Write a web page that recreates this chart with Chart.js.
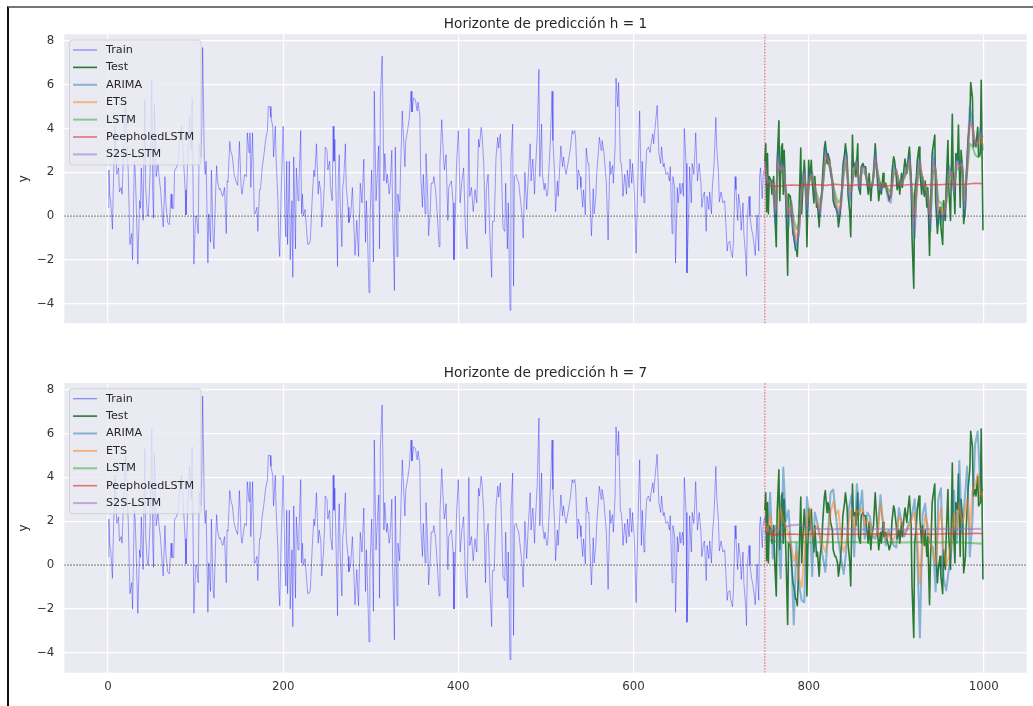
<!DOCTYPE html>
<html>
<head>
<meta charset="utf-8">
<script src="https://cdn.jsdelivr.net/npm/chart.js@4/dist/chart.umd.min.js"></script>
<style>
  html, body { margin: 0; padding: 0; background: #fff; }
  body { width: 1033px; height: 706px; position: relative; overflow: hidden; }
  canvas { position: absolute; left: 0; }
  #c1 { top: 0; }
  #c2 { top: 353px; }
  #marco { position: absolute; left: 7px; top: 6px; right: -10px; bottom: -10px;
           border-left: 2px solid #111; border-top: 2px solid #777; pointer-events: none; }
</style>
</head>
<body>
<canvas id="c1" width="1033" height="353"></canvas>
<canvas id="c2" width="1033" height="353"></canvas>
<div id="marco"></div>
<script>
// serie de entrenamiento [t, y]
const trainPts = [
[0,0.4],[1,2.1],[2,0.9],[3,0.7],[5,-0.6],[6,1.3],[8,4.1],[10,1.9],[12,2.2],[13,1.1],
[15,1.3],[16,1.0],[18,3.2],[20,5.0],[22,2.7],[23,2.1],[25,-1.3],[27,-0.8],[28,-2.0],[30,2.5],
[31,2.1],[32,0.8],[34,-2.2],[36,0.7],[37,0.35],[38,2.2],[40,-0.2],[42,5.3],[43,1.3],[45,0.0],
[46,0.0],[48,1.9],[50,6.2],[51,1.0],[52,-0.1],[53,5.1],[55,1.8],[57,2.4],[58,1.9],[60,1.2],
[61,0.6],[63,-0.5],[65,1.8],[66,0.6],[68,-0.3],[70,-0.4],[72,1.0],[73,0.35],[75,0.35],[76,2.1],
[78,2.2],[80,2.5],[82,3.5],[84,4.1],[86,2.7],[88,1.2],[89,0.05],[91,2.7],[93,4.5],[95,3.0],
[96,5.4],[98,-2.2],[100,0.0],[101,0.0],[103,-0.8],[104,3.3],[106,2.7],[107,3.9],[108,7.7],[110,2.5],
[111,1.9],[112,2.5],[114,-2.15],[115,0.1],[117,-1.2],[118,2.1],[120,-1.1],[121,-1.5],[123,1.3],[124,2.3],
[125,1.6],[127,1.2],[128,1.25],[130,1.0],[131,0.9],[133,1.3],[135,-0.8],[136,1.6],[137,1.55],[139,3.4],
[140,3.0],[142,2.7],[144,1.9],[146,1.6],[148,1.4],[150,3.4],[152,1.3],[153,1.0],[155,1.6],[156,1.9],
[158,1.8],[159,3.8],[161,2.9],[162,3.8],[163,1.3],[165,3.8],[167,0.1],[168,0.1],[170,0.4],[171,-0.7],
[173,1.2],[174,1.2],[176,2.2],[178,2.8],[180,3.5],[182,3.9],[183,5.0],[185,5.0],[186,4.5],[188,4.1],
[189,2.7],[191,4.1],[192,2.5],[194,0.7],[195,-1.1],[196,-1.85],[198,1.6],[200,4.1],[202,0.0],[203,-0.95],
[204,2.5],[205,-1.3],[207,2.5],[208,-2.0],[210,0.7],[211,-2.8],[212,2.7],[214,-1.5],[215,2.2],[217,0.7],
[218,1.5],[220,3.9],[221,0.1],[222,1.0],[223,0.0],[225,0.3],[227,-0.8],[228,-1.3],[230,-1.25],[231,-1.1],
[233,0.7],[235,2.1],[236,1.8],[238,3.3],[240,1.0],[241,1.6],[243,1.1],[244,-0.5],[246,0.6],[247,1.5],
[248,3.15],[250,3.0],[251,2.1],[253,2.5],[254,1.3],[256,0.7],[257,4.1],[258,2.5],[259,3.5],[260,1.6],
[262,-2.3],[263,1.9],[264,2.8],[265,0.7],[267,-1.4],[268,1.3],[269,1.6],[271,3.3],[272,1.3],[274,0.4],
[275,-0.3],[277,0.0],[279,1.3],[280,0.3],[282,-1.8],[284,-0.2],[286,-1.85],[288,1.5],[290,0.6],[292,2.6],
[294,-1.2],[295,0.7],[296,-0.5],[298,-3.5],[299,-0.3],[301,2.1],[303,-2.1],[304,5.7],[306,0.7],[307,0.7],
[309,3.2],[310,-1.5],[311,5.4],[313,7.3],[315,1.6],[316,2.85],[318,1.5],[319,1.9],[321,1.0],[322,1.3],
[324,3.0],[325,0.0],[327,-3.4],[328,3.15],[330,-1.85],[331,1.0],[333,0.2],[334,2.1],[336,4.8],[337,3.9],
[339,2.25],[340,3.45],[342,3.9],[344,4.5],[346,5.7],[347,4.75],[349,5.4],[351,5.3],[353,4.8],[354,5.2],
[356,4.6],[357,1.9],[359,0.4],[360,1.9],[362,0.1],[363,2.85],[365,0.9],[366,-0.9],[368,0.3],[369,1.5],
[371,1.5],[372,1.8],[374,1.2],[376,0.0],[378,-1.4],[379,2.4],[381,4.4],[383,2.7],[384,2.1],[386,2.8],
[388,-0.2],[389,1.3],[391,1.5],[392,1.6],[394,0.6],[395,-2.0],[397,0.9],[398,2.4],[400,3.9],[402,0.6],
[404,1.6],[406,2.2],[408,-0.5],[410,-1.5],[412,4.0],[413,0.9],[415,1.3],[417,0.2],[419,1.2],[421,0.6],
[423,3.5],[424,3.15],[426,4.05],[427,3.75],[429,2.4],[431,-0.8],[432,1.3],[434,1.9],[436,-0.9],[438,-2.8],
[439,-0.25],[441,-0.25],[443,2.7],[445,3.6],[446,3.1],[448,3.75],[449,2.4],[451,-0.55],[453,-0.7],[454,1.5],
[456,-1.5],[457,0.6],[459,-4.3],[460,2.5],[462,4.2],[463,-3.2],[464,1.8],[466,1.9],[467,1.7],[469,1.5],
[471,0.7],[473,-0.1],[474,-1.0],[476,2.0],[478,0.3],[480,1.9],[482,3.3],[483,1.6],[485,2.6],[487,1.0],
[488,2.1],[490,3.6],[492,6.7],[493,1.8],[495,4.2],[496,1.9],[498,1.2],[499,1.5],[501,0.9],[502,1.0],
[505,3.4],[507,5.7],[508,3.45],[510,1.8],[511,0.2],[513,1.6],[514,0.9],[516,2.4],[517,3.2],[519,2.25],
[520,2.7],[522,2.1],[523,1.9],[526,2.6],[528,3.1],[530,3.9],[531,3.75],[533,3.9],[534,3.45],[536,1.2],
[537,2.1],[539,1.8],[540,1.3],[542,0.4],[543,1.2],[545,0.05],[546,3.1],[548,2.4],[549,2.4],[551,0.0],
[552,-0.9],[554,1.25],[555,0.1],[557,0.9],[558,1.9],[560,3.0],[561,3.6],[563,3.0],[564,3.45],[566,3.0],
[568,2.0],[569,1.5],[571,-1.1],[573,2.5],[574,1.9],[576,2.3],[577,1.5],[579,3.15],[580,6.3],[582,5.0],
[583,6.1],[585,2.5],[586,2.4],[587,1.9],[588,0.9],[590,1.9],[592,1.0],[593,2.1],[595,1.3],[596,2.6],
[598,1.5],[599,2.4],[601,1.0],[603,-1.7],[605,1.8],[607,4.8],[609,0.9],[610,2.5],[612,0.6],[613,1.3],
[615,3.0],[617,3.15],[619,2.9],[620,3.3],[622,3.75],[623,3.3],[625,4.2],[627,5.05],[629,2.85],[631,2.4],
[632,3.15],[634,2.25],[635,2.4],[637,1.9],[639,2.0],[641,1.6],[642,2.25],[644,-0.8],[645,1.8],[647,1.3],
[648,-2.15],[650,1.3],[651,0.6],[653,1.5],[654,1.0],[656,1.5],[657,0.9],[658,4.0],[660,2.4],[661,-2.6],
[663,0.1],[664,2.25],[666,0.6],[667,2.4],[669,1.9],[671,3.8],[673,1.6],[675,2.4],[677,1.5],[678,0.4],
[680,1.0],[681,1.1],[683,-0.7],[684,0.9],[686,0.3],[687,1.1],[689,0.1],[690,1.3],[692,2.4],[694,4.5],
[695,3.15],[697,2.0],[698,0.65],[700,1.1],[702,0.6],[704,0.7],[705,0.0],[707,-1.6],[708,-1.25],[710,-1.15],
[711,-1.55],[713,-1.9],[714,-1.25],[716,1.8],[717,1.2],[719,-0.2],[720,1.0],[722,0.3],[723,-0.65],[725,0.6],
[726,-0.8],[728,-1.85],[729,-2.75],[730,0.0],[732,0.9],[733,0.0],[735,-0.65],[736,-0.8],[738,-1.4],[739,-1.8],
[741,0.05],[743,-1.6],[744,1.8],[745,2.2],[747,0.8],[748,1.8],[749,2.1]
];

// serie de test [t, y]
const testPts = [
[750,2.5],[751,3.3],[752,0.2],[753,2.85],[754,0.1],[755,1.8],[757,1.6],[758,1.0],[760,1.8],[761,0.4],
[763,-1.4],[764,2.4],[766,4.35],[767,0.7],[769,3.15],[770,3.3],[771,1.0],[772,3.0],[774,0.6],[776,-2.7],
[777,1.0],[779,0.9],[780,0.4],[782,-0.8],[783,-0.95],[785,-1.55],[786,-1.55],[787,-1.85],[789,0.3],[791,3.1],
[792,0.1],[794,1.8],[795,2.55],[797,1.0],[798,-1.4],[800,2.55],[801,1.6],[803,2.55],[804,1.6],[806,0.6],
[807,1.8],[809,0.4],[810,0.6],[812,-0.5],[813,0.4],[815,1.0],[816,1.95],[818,3.15],[819,3.4],[821,2.4],
[822,2.85],[824,2.55],[825,1.95],[827,1.6],[828,0.7],[830,0.4],[831,0.4],[833,0.1],[834,-0.5],[836,0.1],
[838,1.3],[839,2.25],[841,2.85],[842,3.3],[844,2.55],[845,1.0],[847,0.1],[848,-0.95],[850,3.7],[851,2.25],
[853,2.4],[854,1.8],[856,3.3],[857,1.3],[859,1.0],[860,2.25],[862,2.4],[863,2.25],[865,2.25],[866,1.8],
[868,1.0],[869,1.95],[871,0.7],[872,1.3],[874,1.8],[876,3.3],[877,2.55],[879,1.3],[880,0.7],[882,1.5],
[883,1.0],[885,1.95],[886,1.3],[888,1.5],[889,1.2],[891,0.9],[892,0.7],[894,1.0],[895,1.95],[897,2.7],
[898,2.55],[900,1.8],[901,1.2],[903,1.6],[904,1.0],[906,1.95],[907,1.3],[909,2.25],[910,2.6],[912,1.95],
[913,2.4],[915,3.15],[917,1.8],[918,-0.95],[920,-3.3],[921,1.0],[923,1.8],[924,2.55],[926,3.15],[927,2.1],
[929,1.0],[930,1.8],[932,0.9],[933,1.6],[935,0.4],[936,1.3],[938,-1.8],[939,0.1],[941,2.85],[942,3.15],
[944,3.7],[945,0.7],[947,-0.8],[948,-0.2],[950,0.4],[951,-0.5],[953,-1.3],[954,0.7],[956,-0.2],[957,1.3],
[959,3.45],[960,1.3],[962,-0.2],[964,4.65],[965,1.95],[967,0.1],[968,2.85],[970,2.55],[971,4.15],[973,0.4],
[974,3.0],[976,1.95],[977,-0.35],[979,0.4],[980,1.8],[982,3.45],[984,4.35],[985,6.1],[987,5.4],[988,3.15],
[990,3.45],[991,3.15],[993,4.05],[994,2.7],[996,2.85],[997,6.2],[999,-0.65]
];

// predicciones: rejilla cada 3 pasos (750..999) y rejilla gruesa para las casi planas
const predX = [];
for (let t = 750; t <= 999; t += 3) predX.push(t);
const flatX = [750,760,770,780,790,800,810,820,830,840,850,860,870,880,890,900,910,920,930,940,950,960,970,980,990,999];

// h = 1
const arima1 = [2.6,1.3,1.7,1.4,-0.3,3.0,2.0,2.4,0.8,-0.5, 0.6,-0.9,-1.5,-0.7,1.6,2.2,0.0,2.0,2.0,1.2,
  0.5,0.0,1.5,3.2,2.6,2.2,1.1,0.4,-0.1,0.6, 2.5,2.9,0.6,1.2,2.3,2.6,1.2,2.3,2.2,1.4,
  1.3,1.5,3.0,1.8,1.1,1.5,1.4,1.0,0.9,2.3, 2.1,1.4,1.5,1.9,2.2,2.8,0.6,-1.0,2.2,2.6,
  1.4,1.2,0.9,-0.7,2.9,2.0,-0.4,0.0,-0.2,0.6, 2.3,2.0,1.0,2.7,2.3,2.5,0.0,2.6,5.0,4.2, 3.3,3.4,4.0,3.0];
const ets1 = [2.3,1.6,1.6,1.5,0.3,2.4,2.1,2.2,1.1,0.1, 0.5,-0.5,-1.0,-0.6,1.1,1.9,0.6,1.7,1.9,1.3,
  0.7,0.3,1.3,2.7,2.6,2.2,1.4,0.7,0.3,0.6, 2.0,2.6,1.1,1.3,2.1,2.4,1.5,2.1,2.1,1.6,
  1.4,1.5,2.6,2.0,1.4,1.5,1.4,1.2,1.0,2.0, 2.1,1.6,1.5,1.8,2.1,2.5,1.1,-0.2,1.6,2.4,
  1.7,1.3,1.0,-0.1,2.3,2.2,0.4,0.3,0.1,0.6, 1.9,2.0,1.3,2.4,2.3,2.4,0.7,2.1,4.2,4.1, 3.4,3.3,3.7,3.2];
const lstm1 = [2.0,1.6,1.6,1.5,0.6,2.2,2.0,2.1,1.2,0.4, 0.7,-0.2,-0.6,-0.3,1.1,1.8,0.8,1.7,1.8,1.3,
  0.9,0.6,1.3,2.5,2.4,2.1,1.4,0.9,0.6,0.8, 1.9,2.4,1.2,1.4,2.0,2.3,1.5,2.0,2.0,1.6,
  1.4,1.5,2.4,1.9,1.4,1.5,1.4,1.2,1.1,1.9, 2.0,1.6,1.5,1.7,2.0,2.3,1.2,0.2,1.5,2.2,
  1.7,1.4,1.1,0.3,2.1,2.0,0.7,0.6,0.4,0.8, 1.8,1.9,1.4,2.2,2.1,2.2,1.0,2.0,3.3,3.2, 2.8,2.7,2.8,2.6];
const peep1 = [1.45,1.35,1.38,1.42,1.40,1.44,1.43,1.40,1.45,1.42,1.40,1.44,1.41,1.43,1.38,1.40,1.42,1.45,1.42,1.44,1.43,1.46,1.44,1.45,1.50,1.48];
const s2s1 = [2.4,1.5,1.6,1.4,0.1,2.7,2.1,2.3,1.0,-0.2, 0.5,-0.7,-1.3,-0.8,1.3,2.0,0.3,1.8,1.9,1.2,
  0.5,0.1,1.3,2.9,2.6,2.2,1.2,0.5,0.1,0.5, 2.2,2.7,0.9,1.2,2.2,2.5,1.3,2.2,2.1,1.5,
  1.3,1.4,2.8,1.9,1.2,1.4,1.3,0.7,0.6,2.1, 2.1,1.5,1.4,1.8,2.1,2.6,0.8,-0.6,1.9,2.5,
  1.5,1.2,0.9,-0.4,2.6,2.1,0.0,0.1,-0.1,0.6, 2.1,2.0,1.1,2.5,2.2,2.4,0.3,2.4,4.4,4.0, 3.2,3.3,3.8,3.6];

// h = 7
const arima7 = [2.2,1.2,3.3,0.3,1.8,1.5,-0.6,4.45,2.0,2.5, 0.7,-2.7,1.0,-0.9,-1.6,-1.7,3.1,2.2,-0.5,2.4,
  1.9,1.2,0.4,-0.3,1.4,3.3,3.45,2.3,1.1,0.3, -0.4,0.7,2.6,3.2,0.4,3.7,2.3,3.4,1.2,2.4,
  2.2,1.3,1.2,1.6,3.2,1.7,0.9,1.6,1.3,0.9, 0.8,2.6,2.0,1.3,1.6,2.0,2.3,3.0,0.5,-3.3,
  2.3,2.8,1.3,1.0,0.8,-1.2,3.0,3.5,-0.6,-1.15, -0.2,0.7,3.4,1.0,4.75,1.5,2.9,4.5,0.4,2.0, 5.5,6.1,3.6,3.4];
const ets7 = [2.0,1.5,2.3,1.2,1.5,1.6,2.6,2.0,1.8,1.4, 0.9,0.2,0.6,-0.6,-1.0,0.4,2.0,2.6,1.2,1.6,
  1.8,1.4,0.9,0.6,1.2,2.4,2.9,2.3,2.5,1.2, 0.6,1.0,2.0,2.6,1.4,2.5,2.4,2.6,1.8,2.1,
  1.9,1.4,1.3,1.5,2.8,2.0,1.2,1.4,1.1,1.2, 1.4,2.2,2.0,1.5,1.6,1.8,2.1,2.4,1.2,-0.85,
  0.9,2.3,1.8,1.0,0.6,0.05,1.8,2.6,0.8,0.0, 0.4,1.0,2.4,1.6,2.8,1.9,2.3,3.0,1.5,3.4, 3.6,4.15,3.3,3.1];
const lstm7 = [1.2,1.08,1.05,1.04,1.05,1.03,1.04,1.05,1.04,1.03,1.05,1.04,1.03,1.04,1.05,1.04,1.03,1.04,1.05,1.04,1.03,1.05,1.04,1.02,1.0,0.98];
const peep7 = [1.5,1.38,1.40,1.42,1.40,1.41,1.43,1.40,1.42,1.41,1.40,1.42,1.41,1.43,1.40,1.41,1.42,1.40,1.43,1.41,1.42,1.44,1.42,1.43,1.45,1.44];
const s2s7 = [1.55,1.62,1.7,1.82,1.85,1.7,1.66,1.65,1.64,1.66,1.65,1.63,1.65,1.66,1.64,1.65,1.63,1.66,1.65,1.64,1.66,1.65,1.64,1.66,1.65,1.66];

const xTicks = [0, 200, 400, 600, 800, 1000];
const yTicks = [-4, -2, 0, 2, 4, 6, 8];
const xMin = -49.95, xMax = 1048.95;
const yMin = -4.9, yMax = 8.3;
const corte = 750;
const titulos = ['Horizonte de predicción h = 1', 'Horizonte de predicción h = 7'];

const FUENTE = 'DejaVu Sans';
const estilos = {
  'Train':         { color: 'rgba(0,0,255,0.45)',     width: 0.8 },
  'Test':          { color: 'rgba(20,110,30,0.9)',    width: 1.6 },
  'ARIMA':         { color: 'rgba(31,119,180,0.5)',   width: 2 },
  'ETS':           { color: 'rgba(255,127,14,0.5)',   width: 2 },
  'LSTM':          { color: 'rgba(44,160,44,0.5)',    width: 2 },
  'PeepholedLSTM': { color: 'rgba(214,39,40,0.6)',    width: 1.6 },
  'S2S-LSTM':      { color: 'rgba(148,103,189,0.5)',  width: 2 }
};

const dePares = p => p.map(([x, y]) => ({ x, y }));
const deRejilla = (xs, ys) => xs.map((x, i) => ({ x, y: ys[i] }));

function serie(label, data) {
  const e = estilos[label];
  return { label, data, borderColor: e.color, borderWidth: e.width, enLeyenda: true };
}

const fondo = {
  id: 'fondo',
  beforeDraw(chart) {
    const { ctx, chartArea: a } = chart;
    ctx.save();
    ctx.fillStyle = '#EAEAF2';
    ctx.fillRect(a.left, a.top, a.right - a.left, a.bottom - a.top);
    ctx.restore();
  }
};

const titulo = {
  id: 'titulo',
  afterDraw(chart, args, opts) {
    const { ctx, chartArea: a } = chart;
    ctx.save();
    ctx.font = '13.6px "' + FUENTE + '"';
    ctx.fillStyle = '#262626';
    ctx.textAlign = 'center';
    ctx.textBaseline = 'alphabetic';
    ctx.fillText(opts.text, (a.left + a.right) / 2, a.top - 6);
    ctx.restore();
  }
};

const leyenda = {
  id: 'leyenda',
  afterDraw(chart) {
    const { ctx, chartArea: a } = chart;
    const items = chart.data.datasets.filter(d => d.enLeyenda);
    const x0 = a.left + 5.2, y0 = a.top + 5.7;
    ctx.save();
    ctx.beginPath();
    ctx.roundRect(x0, y0, 131.5, 125, 3);
    ctx.fillStyle = 'rgba(234,234,242,0.8)';
    ctx.fill();
    ctx.strokeStyle = 'rgba(204,204,204,0.8)';
    ctx.lineWidth = 1;
    ctx.stroke();
    ctx.font = '11.2px "' + FUENTE + '"';
    ctx.textBaseline = 'middle';
    items.forEach((d, i) => {
      const y = y0 + 10 + i * 17.4;
      ctx.beginPath();
      ctx.moveTo(x0 + 3.5, y);
      ctx.lineTo(x0 + 27.5, y);
      ctx.strokeStyle = d.borderColor;
      ctx.lineWidth = Math.max(d.borderWidth, 1.2);
      ctx.stroke();
      ctx.fillStyle = '#262626';
      ctx.fillText(d.label, x0 + 36.5, y);
    });
    ctx.restore();
  }
};

function crear(id, texto, series, conEtiquetas, arriba, altoEjeX) {
  const lineas = series.concat([
    { label: 'cero', data: [{ x: xMin, y: 0 }, { x: xMax, y: 0 }],
      borderColor: 'rgba(0,0,0,0.85)', borderWidth: 0.9, borderDash: [1.5, 1.5] },
    { label: 'corte', data: [{ x: corte, y: yMin }, { x: corte, y: yMax }],
      borderColor: 'rgba(230,0,0,0.7)', borderWidth: 0.9, borderDash: [1.5, 1.5] }
  ]);
  const n = lineas.length;
  lineas.forEach((d, i) => { d.order = n - i; d.fill = false; });

  const fuenteTicks = { family: FUENTE, size: 11.8 };
  return new Chart(document.getElementById(id), {
    type: 'line',
    data: { datasets: lineas },
    options: {
      responsive: false,
      animation: false,
      devicePixelRatio: 1,
      layout: { padding: { left: 0, right: 6.3, top: arriba, bottom: 0 } },
      elements: { point: { radius: 0 }, line: { tension: 0, borderJoinStyle: 'round' } },
      plugins: {
        legend: { display: false },
        tooltip: { enabled: false },
        titulo: { text: texto }
      },
      scales: {
        x: {
          type: 'linear', min: xMin, max: xMax,
          afterBuildTicks: s => { s.ticks = xTicks.map(v => ({ value: v })); },
          afterFit: s => { s.height = altoEjeX; s.paddingLeft = 0; s.paddingRight = 0; },
          grid: { color: '#ffffff', lineWidth: 1.2, drawTicks: false },
          border: { display: false },
          ticks: { display: conEtiquetas, color: '#333', font: fuenteTicks, padding: 7.5, maxRotation: 0,
                   callback: v => String(v) }
        },
        y: {
          type: 'linear', min: yMin, max: yMax,
          afterBuildTicks: s => { s.ticks = yTicks.map(v => ({ value: v })); },
          afterFit: s => { s.width = 64.3; s.paddingTop = 0; s.paddingBottom = 0; },
          grid: { color: '#ffffff', lineWidth: 1.2, drawTicks: false },
          border: { display: false },
          ticks: { color: '#333', font: fuenteTicks, padding: 10,
                   callback: v => String(v).replace('-', '\u2212') },
          title: { display: true, text: 'y', color: '#262626',
                   font: { family: FUENTE, size: 12 }, padding: { top: 16.2, bottom: 0 } }
        }
      }
    },
    plugins: [fondo, titulo, leyenda]
  });
}

const train = dePares(trainPts);
const test = dePares(testPts);

crear('c1', titulos[0], [
  serie('Train', train),
  serie('Test', test),
  serie('ARIMA', deRejilla(predX, arima1)),
  serie('ETS', deRejilla(predX, ets1)),
  serie('LSTM', deRejilla(predX, lstm1)),
  serie('PeepholedLSTM', deRejilla(flatX, peep1)),
  serie('S2S-LSTM', deRejilla(predX, s2s1))
], false, 34.3, 29.7);

crear('c2', titulos[1], [
  serie('Train', train),
  serie('Test', test),
  serie('ARIMA', deRejilla(predX, arima7)),
  serie('ETS', deRejilla(predX, ets7)),
  serie('LSTM', deRejilla(flatX, lstm7)),
  serie('PeepholedLSTM', deRejilla(flatX, peep7)),
  serie('S2S-LSTM', deRejilla(flatX, s2s7))
], true, 30, 33.3);
</script>
</body>
</html>
